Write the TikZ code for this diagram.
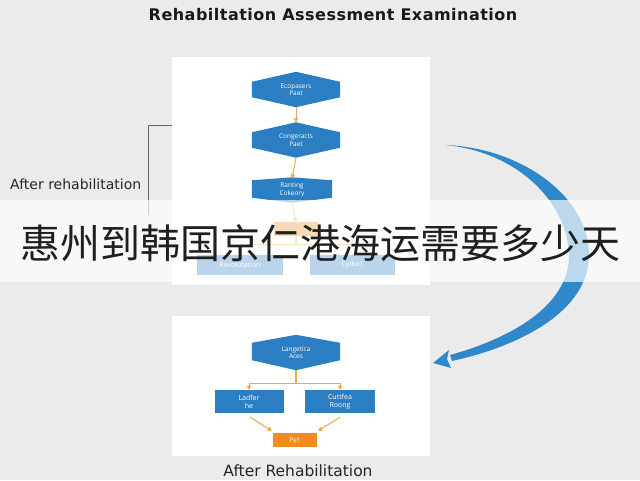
\documentclass[tikz,border=0pt]{standalone}
\usepackage{fontspec}
\setmainfont{Open Sans}
\newfontfamily\labfont{DejaVu Sans}
\newfontfamily\titlefont[LetterSpace=3]{DejaVu Sans}
\newfontfamily\cjkfont{Noto Sans CJK SC}
\usetikzlibrary{calc,arrows.meta}
\pgfdeclarelayer{bgzero}
\pgfdeclarelayer{background}
\pgfsetlayers{bgzero,background,main}
\definecolor{bggray}{HTML}{EBEBEB}
\definecolor{hexblue}{HTML}{2B7EC1}
\definecolor{arrowblue}{HTML}{2E88CA}
\definecolor{orangeA}{HTML}{F08C1E}
\definecolor{lineor}{HTML}{EBA94A}
\definecolor{bracketgray}{HTML}{666666}
\tikzset{
  hexa/.style={minimum width=88pt,minimum height=35pt,inner sep=0pt,text=white,align=center,font=\fontsize{6.5}{7.5}\selectfont},
  bluebox/.style={fill=hexblue,minimum height=23pt,inner sep=0pt,text=white,align=center,font=\fontsize{7}{8}\selectfont},
  orbox/.style={fill=orangeA,minimum width=44pt,minimum height=14pt,inner sep=0pt,text=white,font=\fontsize{6.5}{7}\selectfont},
  orarrow/.style={draw=lineor,line width=1pt,-{Triangle[length=4pt,width=4.5pt]}},
  orline/.style={draw=lineor,line width=1.2pt},
  lab/.style={font=\labfont\fontsize{14}{16}\selectfont,text=black!85,inner sep=0pt},
}
\begin{document}
\begin{tikzpicture}[x=1pt,y=-1pt]
\begin{pgfonlayer}{bgzero}
\fill[bggray] (0,0) rectangle (640,480);
\fill[white] (172,57) rectangle (430,285);
\fill[white] (172,316) rectangle (430,456);
\end{pgfonlayer}
\useasboundingbox (0,0) rectangle (640,480);

% title
\node[font=\titlefont\bfseries\fontsize{16}{18}\selectfont,text=black!90,inner sep=0pt] (title) at (333,15) {Rehabiltation Assessment Examination};

% top panel
\node[hexa] (h1) at (296,89.5) {Ecopasers\\Paet};
\node[hexa] (h2) at (296,140) {Congeracts\\Paet};
\node[hexa,minimum width=80pt,minimum height=25pt] (h3) at (292,190) {Ranting\\Cokeory};
\node[orbox] (o0) at (296,229) {};
\node[bluebox,minimum width=86pt,minimum height=20pt] (p1) at (240,265) {Revolutation};
\node[bluebox,minimum width=85pt,minimum height=20pt] (p2) at (352,265) {Cyduri};
\draw[orarrow] (h1.south) -- (h2.north);
\draw[orarrow] (h2.south) -- ([yshift=-1pt]h3.north);
\draw[orarrow] (h3.south) -- (o0.north);
\draw[orline] (o0.south) -- ++(0,8) coordinate (jt);
\draw[orline] (p1.north |- jt) -- (p2.north |- jt);

% bottom panel
\node[hexa] (h4) at (296,352.5) {Langetica\\Aces};
\node[bluebox,minimum width=69pt] (b1) at (249,401.5) {Ladfer\\he};
\node[bluebox,minimum width=70pt] (b2) at (340,401.5) {Cuttfea\\Roong};
\node[orbox] (o1) at (295,440) {Pe1};
\coordinate (j) at (296,383);
\draw[orline] (h4.south) -- (j);
\draw[orarrow] (j) -| (b1.north);
\draw[orarrow] (j) -| (b2.north);
\draw[orarrow] ($(b1.south)+(1pt,-4pt)$) -- ($(o1.north west)+(-1pt,2pt)$);
\draw[orarrow] ($(b2.south)+(0pt,-4pt)$) -- ($(o1.north east)+(1pt,2pt)$);

\begin{pgfonlayer}{background}
\foreach \n/\a/\b in {h1/10/10,h2/10/10,h3/3/5,h4/8/10}{
  \fill[hexblue] (\n.north) -- ([yshift=-\a pt]\n.north east) -- ([yshift=\b pt]\n.south east)
    -- (\n.south) -- ([yshift=\b pt]\n.south west) -- ([yshift=-\a pt]\n.north west) -- cycle;
}
\end{pgfonlayer}

% labels
\node[lab,anchor=west] (al) at (10,184) {After rehabilitation};
\coordinate (bt) at (172,125);
\coordinate (bb) at (148,215);
\draw[bracketgray,line width=0.8pt] (bt) -- (bb |- bt) -- (bb);
\node[lab,font=\labfont\fontsize{15.5}{17}\selectfont] (ar) at (298,471) {After Rehabilitation};

% big curved arrow
\coordinate (cs) at (445,145);
\coordinate (ce) at (433,363);
\fill[arrowblue] (cs) .. controls (525,148) and (591,200) .. (589,257)
  .. controls (587,312) and (520,346) .. (452,361) -- (450,355)
  .. controls (515,337) and (568,304) .. (569,257)
  .. controls (569,205) and (520,152) .. (cs) -- cycle;
\fill[arrowblue] (ce) -- (449,350) -- (447,359) -- (451,368) -- cycle;

% overlay band
\fill[white,opacity=0.68] (0,200) rectangle (640,282);
\node[font=\cjkfont\fontsize{40}{44}\selectfont,text=black!88,inner sep=0pt] (cn) at (320,243) {惠州到韩国京仁港海运需要多少天};
\end{tikzpicture}
\end{document}
